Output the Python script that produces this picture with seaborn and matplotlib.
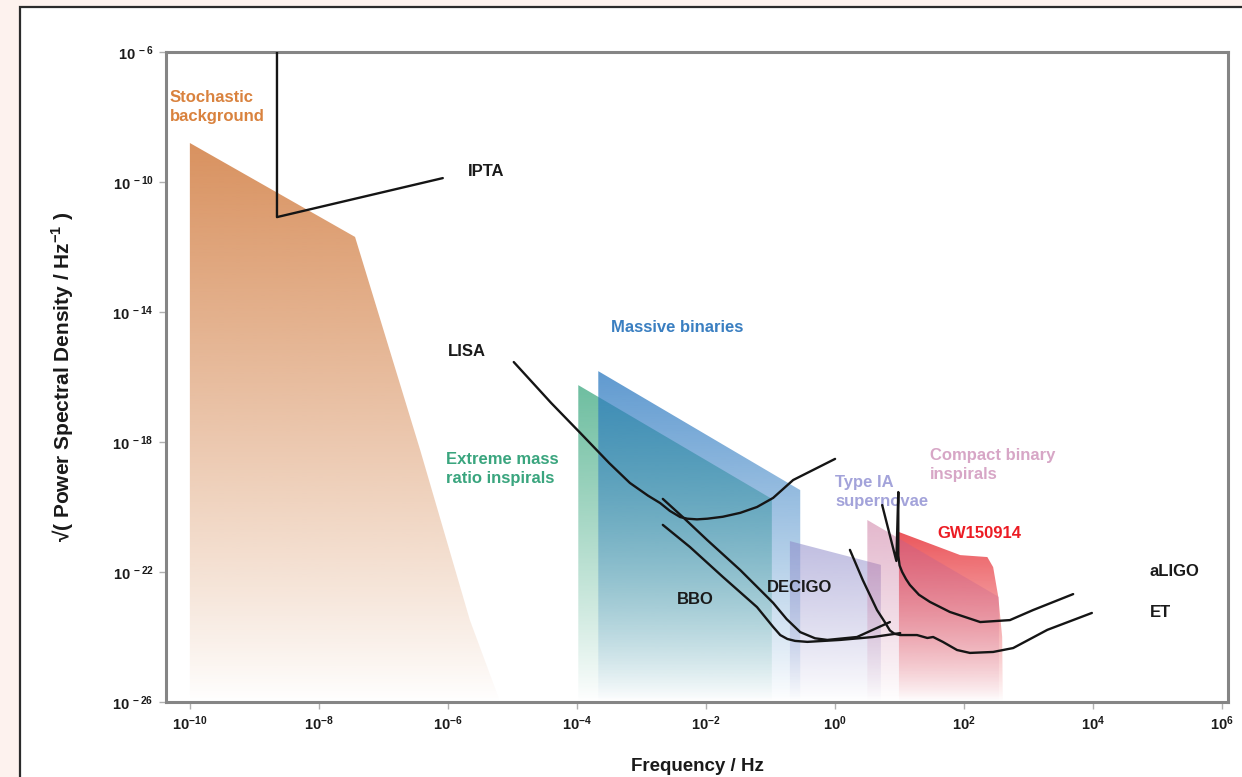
import numpy as np
import matplotlib.pyplot as plt
import matplotlib.colors as mcolors
from matplotlib.patches import Rectangle
from matplotlib.ticker import FixedLocator, FuncFormatter
import seaborn as sns

sns.set_theme(style="white")
plt.rcParams["font.family"] = ["Liberation Sans", "DejaVu Sans"]
plt.rcParams["mathtext.fontset"] = "custom"
plt.rcParams["mathtext.rm"] = "Liberation Sans"
plt.rcParams["mathtext.bf"] = "Liberation Sans:bold"

# all values are log10 exponents: frequency in Hz, strain in Hz^-1/2
xlim_exp = (-10.37, 6.09)
ylim_exp = (-26.0, -6.0)
xtick_exp = [-10, -8, -6, -4, -2, 0, 2, 4, 6]
ytick_exp = [-26, -22, -18, -14, -10, -6]

# source regions (polygons)
stoch_f = [-10.0, -7.44, -6.43, -5.66, -5.19, -10.0]
stoch_h = [-8.8, -11.69, -18.25, -23.48, -26.0, -26.0]
emri_f = [-3.98, -0.98, -0.98, -3.98]
emri_h = [-16.25, -19.75, -26.0, -26.0]
mbh_f = [-3.67, -0.54, -0.54, -3.67]
mbh_h = [-15.82, -19.48, -26.0, -26.0]
sn_f = [-0.70, 0.71, 0.71, -0.70]
sn_h = [-21.05, -21.78, -26.0, -26.0]
cbc_f = [0.5, 2.54, 2.54, 0.5]
cbc_h = [-20.4, -22.77, -26.0, -26.0]
gw_f = [0.99, 1.94, 2.36, 2.45, 2.53, 2.59, 2.6, 0.99]
gw_h = [-20.77, -21.48, -21.54, -21.85, -22.77, -24.0, -26.0, -26.0]

# detector sensitivity curves
ipta_f = [-8.65, -8.65, -6.08]
ipta_h = [-6.0, -11.08, -9.88]
lisa_f = [-4.98, -4.4, -3.95, -3.5, -3.18, -2.9, -2.71, -2.56, -2.40, -2.29, -2.14, -1.98, -1.74,
          -1.47, -1.21, -0.96, -0.65, 0.0]
lisa_h = [-15.54, -16.8, -17.72, -18.65, -19.26, -19.65, -19.88, -20.12, -20.31, -20.36, -20.38,
          -20.36, -20.3, -20.18, -20.0, -19.72, -19.17, -18.52]
decigo_f = [-2.67, -2.36, -1.98, -1.47, -0.96, -0.75, -0.54, -0.31, -0.12, 0.34, 0.85]
decigo_h = [-19.75, -20.31, -21.02, -21.94, -22.95, -23.45, -23.85, -24.04, -24.09, -24.0, -23.54]
bbo_f = [-2.67, -2.25, -1.74, -1.21, -0.96, -0.85, -0.74, -0.62, -0.43, 0.08, 0.59, 1.01]
bbo_h = [-20.55, -21.23, -22.15, -23.08, -23.69, -23.94, -24.06, -24.12, -24.15, -24.09, -24.0, -23.88]
et_f = [0.23, 0.43, 0.65, 0.78, 0.85, 0.92, 1.01, 1.27, 1.43, 1.52, 1.67, 1.89, 2.09, 2.45, 2.76, 3.29,
        3.98]
et_h = [-21.32, -22.25, -23.17, -23.57, -23.8, -23.9, -23.94, -23.94, -24.03, -24.0, -24.15, -24.4,
        -24.49, -24.46, -24.34, -23.78, -23.26]
aligo_f = [0.73, 0.95, 0.98, 0.98, 1.0, 1.04, 1.1, 1.16, 1.3, 1.47, 1.78, 2.25, 2.71, 3.07, 3.69]
aligo_h = [-19.94, -21.66, -19.54, -21.5, -21.8, -22.0, -22.22, -22.4, -22.7, -22.92, -23.23, -23.54,
           -23.48, -23.17, -22.68]

fig = plt.figure(figsize=(12.42, 7.77), dpi=100, facecolor="#fdf2ee")
fig.patches.append(Rectangle((20 / 1242, -0.05), 1.2, 1.05 - 7 / 777, transform=fig.transFigure,
                             facecolor="white", edgecolor="#2b2b2b", lw=1.6, zorder=-1))
ax = fig.add_axes([166 / 1242, 1 - 702 / 777, (1228 - 166) / 1242, (702 - 52) / 777])
ax.set_xscale("log")
ax.set_yscale("log")
ax.set_xlim(10 ** xlim_exp[0], 10 ** xlim_exp[1])
ax.set_ylim(10 ** ylim_exp[0], 10 ** ylim_exp[1])
ax.set_autoscale_on(False)


def gradient_fill(f_exp, h_exp, color, alpha_top, z):
    poly = ax.fill(10.0 ** np.array(f_exp), 10.0 ** np.array(h_exp),
                   facecolor="none", edgecolor="none", zorder=z)[0]
    top = (max(h_exp) - ylim_exp[0]) / (ylim_exp[1] - ylim_exp[0])
    frac = np.linspace(0, 1, 500)[:, None]
    rgba = np.zeros((500, 1, 4))
    rgba[..., :3] = mcolors.to_rgb(color)
    rgba[..., 3] = alpha_top * np.clip(frac / top, 0, 1) ** 0.9
    im = ax.imshow(rgba, extent=(0, 1, 0, 1), transform=ax.transAxes, origin="lower",
                   aspect="auto", interpolation="bilinear", zorder=z)
    im.set_clip_path(poly)


gradient_fill(stoch_f, stoch_h, "#d27e43", 0.85, 1)
gradient_fill(emri_f, emri_h, "#3da880", 0.75, 1.1)
gradient_fill(mbh_f, mbh_h, "#2a78c0", 0.75, 1.2)
gradient_fill(sn_f, sn_h, "#8c88c8", 0.55, 1.3)
gradient_fill(gw_f, gw_h, "#e73137", 0.82, 1.4)
gradient_fill(cbc_f, cbc_h, "#c2608f", 0.45, 1.5)

# detector curves
for cf, ch in [(ipta_f, ipta_h), (lisa_f, lisa_h), (decigo_f, decigo_h), (bbo_f, bbo_h),
               (et_f, et_h), (aligo_f, aligo_h)]:
    sns.lineplot(x=10.0 ** np.array(cf), y=10.0 ** np.array(ch), sort=False, estimator=None,
                 color="#151515", lw=1.7, ax=ax, zorder=4, solid_joinstyle="round")

ax.set_xlim(10 ** xlim_exp[0], 10 ** xlim_exp[1])
ax.set_ylim(10 ** ylim_exp[0], 10 ** ylim_exp[1])

# labels
lab = dict(fontsize=12, fontweight="bold", zorder=3, ha="left", va="center", linespacing=1.35)
ax.text(10 ** -10.31, 10 ** -7.68, "Stochastic\nbackground", color="#d9823e", **lab)
ax.text(10 ** -5.69, 10 ** -9.69, "IPTA", color="#1a1a1a", **lab)
ax.text(10 ** -6.0, 10 ** -15.2, "LISA", color="#1a1a1a", **lab)
ax.text(10 ** -3.47, 10 ** -14.49, "Massive binaries", color="#3a7fc1", **lab)
ax.text(10 ** -6.03, 10 ** -18.82, "Extreme mass\nratio inspirals", color="#3aa57e", **lab)
ax.text(10 ** -2.45, 10 ** -22.86, "BBO", color="#1a1a1a", **lab)
ax.text(10 ** -1.05, 10 ** -22.49, "DECIGO", color="#1a1a1a", **lab)
ax.text(10 ** 0.0, 10 ** -19.54, "Type IA\nsupernovae", color="#a3a3da", **lab)
ax.text(10 ** 1.47, 10 ** -18.71, "Compact binary\ninspirals", color="#d7a6c6", **lab)
ax.text(10 ** 1.58, 10 ** -20.8, "GW150914", color="#ec1c24", **lab)
ax.text(10 ** 4.88, 10 ** -22.0, "aLIGO", color="#1a1a1a", **lab)
ax.text(10 ** 4.88, 10 ** -23.26, "ET", color="#1a1a1a", **lab)

# axes styling
ax.xaxis.set_major_locator(FixedLocator([10.0 ** e for e in xtick_exp]))
ax.yaxis.set_major_locator(FixedLocator([10.0 ** e for e in ytick_exp]))
ax.minorticks_off()
ax.xaxis.set_major_formatter(FuncFormatter(lambda v, p: r"$\mathbf{10^{%d}}$" % round(np.log10(v))))
ax.yaxis.set_major_formatter(FuncFormatter(lambda v, p: r"$\mathbf{10^{\,%d}}$" % round(np.log10(v))))
ax.tick_params(axis="both", which="major", bottom=True, left=True, direction="out", length=5,
               width=1, color="#b0b0b0", labelsize=10.5, labelcolor="#1a1a1a", pad=4)
for s in ax.spines.values():
    s.set_color("#858585")
    s.set_linewidth(2.2)

ax.set_xlabel("Frequency / Hz", fontsize=13.5, fontweight="bold", color="#1a1a1a", labelpad=18)
ax.set_ylabel(r"√( Power Spectral Density / Hz$^{\mathbf{-1}}$ )", fontsize=15, fontweight="bold",
              color="#1a1a1a", labelpad=26)

fig.savefig("out.png", dpi=100, facecolor=fig.get_facecolor())
